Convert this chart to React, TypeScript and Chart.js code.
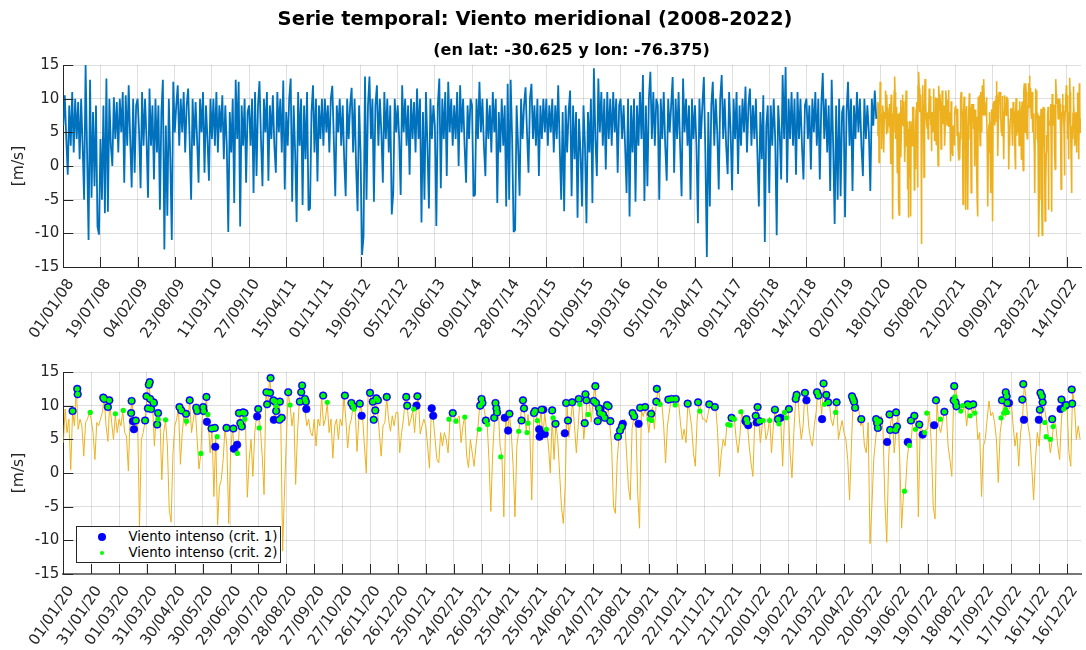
import React, { useEffect, useRef } from 'react';
import { Chart, registerables } from 'chart.js';

Chart.register(...registerables);

// ---------------- text ----------------
const TITLE = 'Serie temporal: Viento meridional (2008-2022)';
const SUBTITLE = '(en lat: -30.625 y lon: -76.375)';
const Y_LABEL = '[m/s]';
const LEGEND_CRIT1 = 'Viento intenso (crit. 1)';
const LEGEND_CRIT2 = 'Viento intenso (crit. 2)';

// ---------------- axes ----------------
const TOP_TICK_LABELS = ['01/01/08','19/07/08','04/02/09','23/08/09','11/03/10','27/09/10','15/04/11','01/11/11','19/05/12','05/12/12','23/06/13','09/01/14','28/07/14','13/02/15','01/09/15','19/03/16','05/10/16','23/04/17','09/11/17','28/05/18','14/12/18','02/07/19','18/01/20','05/08/20','21/02/21','09/09/21','28/03/22','14/10/22'];
const TOP_TICK_STEP = 200; // days between labelled ticks (top)
const TOP_MAX_DAY = 5478; // 31/12/2022 counted from 01/01/2008
const BOTTOM_TICK_LABELS = ['01/01/20','31/01/20','01/03/20','31/03/20','30/04/20','30/05/20','29/06/20','29/07/20','28/08/20','27/09/20','27/10/20','26/11/20','26/12/20','25/01/21','24/02/21','26/03/21','25/04/21','25/05/21','24/06/21','24/07/21','23/08/21','22/09/21','22/10/21','21/11/21','21/12/21','20/01/22','19/02/22','21/03/22','20/04/22','20/05/22','19/06/22','19/07/22','18/08/22','17/09/22','17/10/22','16/11/22','16/12/22'];
const BOTTOM_TICK_STEP = 30;
const BOTTOM_MAX_DAY = 1095; // 31/12/2022 counted from 01/01/2020
const Y_TICKS = [-15, -10, -5, 0, 5, 10, 15];

// ---------------- data ----------------
// 2008-2019 meridional wind, one reading every 8 days from 01/01/2008
const BLUE_STEP = 8;
const blueVals = [
  6,10.5,4,-1.3,9,3,11,2,10,4,9.5,1,10,3,-5,15,2,-11,12.8,-4.7,8,-3,9,-9,-10.2,
  4,-5,9,-7,13,-6.8,10,3,0,10.2,4,9.5,2,10,5,11,-2.5,10.5,3,12,4,-3.2,10,-1,9,
  10,5,-3.3,11,3,10,4,-4.7,11.5,3,9,-2,10,2,9,-6.5,8,12.8,-12.4,6,-7.4,10,1,-11,12.5,
  5,9,12,3,10,5,11,2,9,11.5,4,-5,10,3,9.5,4,-2.5,10,5,11,-1,9,4,-2.2,10,
  4,10,3,11,2,9,5,10.5,1,9,3,-9.8,8,2,10,-5.5,12.8,4,12.5,-9,9,3,10,-2.5,8,
  9,3,10,-4,11,-1.5,9,12.6,4,-3,10,5,11,-2.2,9,4,10.5,3,-1,11,5,10,2,12.7,-3.5,
  8,3,10,13,-5.3,9,2,-8.3,11,3,10,-5.8,9,1,11,-6.6,-6.3,8,12,2,10,-2.3,9,4,10,
  3,10,5,9,2,10,11.9,4,-4.5,9,5,10,3,9,1,-4.5,10,4,9,11.6,2,10,0,-6.7,9,
  2,-13.2,-10.5,13.3,-5,9,13.3,4,10,-5.3,9,12,3,10,5,-2.5,11,4,10,2,9,-7.2,-4,10,5,
  9,4,-4.3,12,5,10,3,9,-1.3,10,4,9.5,2,11.5,4,10,-8.4,8,-5,11,3,-6.3,10,4,9,
  6,-8.9,9,13,-3.3,10,4,11,-1.5,12.5,5,10,3,9,4,11,0,12,5,10,3,-2.5,9,4,10,
  9,-4.5,-4.3,10,4,12.5,5,10,3,-1.5,10,4,9,2,11,5,10,-5.5,8,2,10,3,9,-6,12.2,
  -5,12.8,4,-9.8,-9.5,9,3,-4.4,10,4,9,11.7,5,-1,10,12.2,4,9,3,10,-1.5,9,4,10,5,
  10,3,9,5,10,2,9,4,12,3,-5,8,-6.7,9,2,8,11.2,-4.5,9,1,8,-7.7,7,2,-6,
  9,3,-8.5,8,2,10,-5.5,14.5,4,-1.5,13,5,11,3,10,-0.5,11,4,10,3,11,5,10,-1,9,
  10,4,9,3,-4,10,-7.5,9,2,10,-5.3,9,3,11,4,13.5,-5.2,9,-3,10,14,4,11,3,10,
  9,-5,10,4,11,3,-2.2,10,5,9,13.2,-1,10,4,11,3,-4.5,13,5,10,3,9,-5,10,4,
  9,3,-8.5,10,4,9,13.2,2,-13.5,8,-6,9,12.5,3,10,5,-3.5,10,13.5,4,10,3,-1.2,11,5,
  -3.6,10,4,11,-1.2,9,3,10,5,11.8,2,9,11.5,3,9,4,10,2,-6,8,1,10.5,-11.3,6,9,
  -4,9,3,10,4,-10.3,9,5,-2,13.5,4,14.7,-2.5,10,4,11,3,10,-1.3,11,4,10,3,-2,9,
  10,4,9,-0.5,10,5,11,3,10,-2,9,13.8,4,10,2,9,-3.7,12.8,3,-8.6,9,-5,10,-4.5,8,
  9,-7.6,8,12.5,3,10,-3.7,9,4,11,5,10,3,-1.5,10,4,9,5,-3.7,10,6,11.2,7,
];

// 2020-2022 meridional wind, one reading every 2 days from 01/01/2020
const RECENT_START_DAY = 4383; // 01/01/2020 counted from 01/01/2008
const RECENT_STEP = 2;
const recentVals = [
  4.5,9.5,6,8,0.5,9.2,7,12.5,6.5,8,7,2.5,7.5,8,9,
  8,6,2,7.5,7,8,9,11.2,7,4.7,10.6,7.5,5,8.7,6,
  8,7,9.2,6,5.5,0.3,8.8,10.6,7.7,6.5,7.8,-7.9,5,6,7.8,
  11.3,13.3,11,10.4,4,8.8,7.2,8,-1,6,7.8,4,-5.5,-7.3,3,
  7,8,9.8,1.3,6,8.8,7,8,10.6,6,8,9.6,5,0.6,2.9,
  9.8,9,11.2,7.5,3,6.6,-3.5,5.5,-7.7,-2,-1,2,6.7,4,-7.5,
  3,6.6,3.5,4.2,2.9,8.8,6.8,8.8,7.8,-3.6,2,5,-0.5,6,8.5,
  9.5,6.7,2.6,-3.2,12,10.2,14,11.5,10.6,8,10.4,10.6,8.1,-11.6,-2.5,
  5,12,10.1,7,9,-1.7,6,10.6,12.9,10.7,9.5,7,8,6,5.5,
  8,4,8,7,11.5,7,8,10.4,6,8,2.2,7,8,5,8,
  7,11.5,8,3.7,7,8,10.2,9.6,3.2,8,10.1,8.4,4,0,11.9,
  11.9,10.2,8.2,10.7,9.3,6,2.5,7,7.5,11.2,8,6.2,8.5,7,9,
  9,3,6,8,11.2,10,7,8,9.3,6,9.8,11.3,5.8,7,8,
  7,4,0.7,9.6,8.2,5,2,1.5,6,4,6,5,3,7.8,8.8,
  9,7.7,8,8.5,4.5,7,8.5,2.5,0.8,5,3,1,4,6.5,10,
  11,10,8.5,7.5,2,-5.7,3,8,10.3,9.5,4,2.4,-6.5,8.5,6.2,
  8.9,6,1,-6.5,4,6.3,8.2,10.8,9.5,6.3,8.7,6,-4,8,9.2,
  7.2,6.7,9.2,5.5,8.8,6.5,4,0,8.4,2,7.3,5,0,-5,-7.5,
  -2,10.3,5.3,8,10.5,7,3,7,11,10,5,8,12,10.5,7.6,
  10.6,12.9,9.6,7.5,9.5,8.5,8.9,7.6,10.2,7.3,4,-5,-6,2,5.4,
  6.2,7.2,8,3,-2,-4,6.6,8.3,8.4,-3,-8.2,9.3,8.4,9.6,8.4,
  6,8.4,9.8,6.5,10.4,12.6,11,10.3,7,1.5,7,9,11,10.5,10.3,
  11,10.5,7.5,5,6.5,4.5,10.4,9,7,3,1,8,10.5,9.3,8,
  8,7.5,9,10.3,10,9.5,10,6,-0.5,3,5,4,7,7.5,8.5,
  8.5,8.1,5,3,5.5,9.5,7,8.5,7.4,4,1.5,-0.5,7.9,10.1,8.2,
  4.5,7,8.1,5,6,8.3,3,7,9.6,7.3,8,7.5,1,8.6,9.5,
  9.6,3,-0.7,6,11,12.3,8,5,7,12.3,11,7,5,4,7,
  9,12.3,11.6,8.7,13.4,10.4,11.6,10.8,8,7,8.7,11,5,6.5,7.8,
  6,5,2,-4,4,11.5,10.5,11.2,9.3,7,7.9,4,3,7.5,-10.5,
  -5,2,5,7.5,6.9,8.5,6.3,-4.3,-10.3,2,7.3,8.8,3,6.3,8.6,
  2,-8.2,-3,-2.7,2,4.6,4.3,7.8,7.4,8.8,-6.5,7,6.4,6,6.5,
  6.5,9.2,4,-5,-6.8,10.7,7,6,7.6,9,9.1,4,2,-0.5,11.3,
  12.9,10.7,10,9.3,9.3,10,7,9.8,10,8.9,10,9.2,5,6,-3.5,
  4,5,8,10.7,8.5,9,7.5,5,-1.4,6,8.1,10.7,8.4,12,9.5,
  10.5,7,4,6,1,6,8,13.1,11,7,5.4,1,-4,2,6,
  4,7.9,11.8,9.4,7.7,5.4,3,5,8,6.9,4,2,8,10.9,9.5,
  9.9,3,1,12.3,10.1,5,7,5,
];

// intense-wind days [day since 01/01/2020, value]
const critBoth = [
  [10,9.2],[15,12.5],[15.5,11.7],[43,11.2],[44,11],[48,9.8],[49.5,10.8],[73,8.9],[73.5,10.7],[78,7.8],[88,7.8],
  [89.5,11.4],[91,9.6],[92,13.1],[93,13.5],[93.5,11],[94.5,9.5],[97,10.5],[97.5,10.4],[101,7.2],[102,8.9],
  [125,9.8],[127,9.3],[132,8.8],[136,10.8],[143,9.7],[144,9.2],[150.5,9.8],[151,9.2],[154,11.3],[159.5,6.6],
  [163,6.7],[175.6,6.7],[183,6.6],[189,8.9],[190.5,7.4],[192,6.9],[193.5,9],[195,8.9],[209.7,9.5],[218.6,12],
  [219.3,10.2],[222.5,11.9],[223,14.1],[226,10.8],[228,10.6],[229,9.2],[233,10.6],[232.5,7.9],[235,8.2],[242,12],
  [254.5,10.6],[256,12],[257,13],[260,11],[261,10.6],[279.6,11.5],[303,11.5],[310,10.4],[312,9.9],[319,10.3],
  [330,11.9],[333,10.6],[334,7.9],[335.7,9.3],[336.8,11.1],[338.5,10.8],[348,11.3],[369,11.3],[370,10],[381,11.4],
  [419,8.9],[450,11],[451,10.4],[448.5,10],[454.6,7.8],[463.6,8.2],[465,10.4],[466,9.6],[466.7,9],[480,8.8],
  [493,7.8],[494.6,10.8],[495.7,9.6],[506.4,8.9],[507.5,9.2],[514.6,9.4],[526,9.3],[529.6,7.3],[541,10.4],[543,7.8],
  [547.5,10.5],[554.6,11],[561,7.4],[561.8,11.7],[562.8,10.8],[570.7,10.7],[572.5,12.9],[573.2,10.4],[575,7.7],
  [576.4,9.6],[577.5,8.9],[580.7,8.7],[582.5,8.2],[585,10.1],[586.7,9.9],[588.6,7.7],[596.8,5.4],[599,6.3],[601,6.9],
  [612.5,8.9],[614.3,8.4],[620.7,9.7],[626,9.8],[632.5,8.8],[638.6,12.5],[638,10.6],[651,10.9],[654.6,11],[659,11],
  [671.8,10.3],[683,10.5],[695,10.2],[701,9.8],[719,8.2],[735,8],[745,8.5],[747,9.8],[748.8,7.7],[765.7,9.4],
  [769,8],[780.7,9.5],[788,11],[789,11.6],[798,11.9],[811,12],[812.5,11.5],[818,13.3],[821,11.6],[823,10.5],
  [832,10.5],[848.6,11.4],[849.7,11],[850.8,10.6],[852,9.7],[858.6,8],[874.6,8],[875.7,7.4],[876.4,6.7],[878,7.7],
  [889,8.7],[889.7,6.4],[896,9],[895.4,6.4],[897,6.9],[912,7.8],[915.7,8.5],[921,7.2],[939,10.8],[948,9.1],
  [958,10.8],[958.6,12.9],[960,10.5],[961,9.9],[973,10.2],[974.8,10],[979,10.2],[1010,10.8],[1014,12],[1015,11.4],
  [1015.7,10.4],[1031.8,10.9],[1032.9,13.2],[1050.7,9.4],[1051.4,11.9],[1053,11.4],[1053.7,10.5],[1064,8],
  [1074,10.9],[1079,10.1],[1085,12.4],[1085.5,10.3],
];
const crit1Only = [
  [75,7.7],[76,6.5],[154.5,7.6],[163.5,3.9],[183.5,3.6],[187,4.2],[208.6,8.4],[226.5,7.9],[261.5,9.5],[321,8.5],
  [380,10],[396.4,9.6],[398,8.5],[475,8.2],[478.6,6.3],[512,6.5],[512.5,5.4],[516.4,9.4],[518,5.8],[539.6,5.9],
  [578,9.5],[602,7.3],[619,7.3],[734,7.7],[737,7.1],[746,7.5],[771.8,8.2],[799.6,10.8],[816.4,8],[886.4,4.6],
  [908.6,4.6],[924.6,5.7],[937,7.1],[1017.5,10.4],[1033.6,7.9],[1049.6,7.9],[1073,9.5],[1078,10],
];
const crit2Only = [
  [29,9],[56,8.8],[64.5,9.3],[102,8],[110,7.9],[132.5,7.7],[148,2.9],[155.5,8.7],[165.5,5.4],[187.3,2.9],
  [195.3,8],[210.8,6.7],[229,9.9],[244,10.1],[284,10.5],[312.8,9.5],[377,9.5],[415,8],[422.5,7.7],[432,8.3],
  [447.5,6.5],[456.4,7.2],[470.7,2.4],[490,6.2],[499,6],[500,7.4],[510,7.8],[519.8,6.5],[527,8.2],[555.7,10.2],
  [564.6,8.7],[630.5,8],[633,7.8],[642,10.2],[658.4,10.1],[684.8,9.2],[715,7.2],[717.5,7.1],[722,8],[729,9.1],
  [736,7.5],[753,7.8],[760,7.8],[770,7.3],[776,9],[778,8.2],[819,10.2],[831,9],[905,-2.7],[910.4,4.1],
  [916.8,6.5],[926.9,6],[929,8.9],[943.6,8],[959.3,11.3],[965.7,9.2],[967.5,10],[975.7,8.5],[980.7,8.9],[1009,8.2],
  [1011.8,8.9],[1014,9.4],[1015.7,9],[1056,7.5],[1057.5,5.4],[1062,5],[1065,6.9],[1076.4,9.5],
];

// ---------------- style ----------------
const FONT = "'DejaVu Sans', sans-serif";
const BLUE = '#0072BD';
const ORANGE = '#EDB120';
const CRIT1_COLOR = '#0000FF';
const CRIT2_COLOR = '#00FF00';
const AXIS_COLOR = '#262626';
const GRID_COLOR = 'rgba(38,38,38,0.15)';
const TICK_FONT = { family: FONT, size: 15 };
const ROT = 56;
const INNER_TICK = 10;

const inwardTicks = {
  id: 'inwardTicks',
  afterDatasetsDraw(chart: any) {
    const { ctx, chartArea, scales } = chart;
    ctx.save();
    ctx.strokeStyle = AXIS_COLOR;
    ctx.lineWidth = 1;
    ctx.beginPath();
    scales.x.ticks.forEach((t: any) => {
      const px = Math.round(scales.x.getPixelForValue(t.value)) + 0.5;
      ctx.moveTo(px, chartArea.bottom);
      ctx.lineTo(px, chartArea.bottom - INNER_TICK);
    });
    scales.y.ticks.forEach((t: any) => {
      const py = Math.round(scales.y.getPixelForValue(t.value)) + 0.5;
      ctx.moveTo(chartArea.left, py);
      ctx.lineTo(chartArea.left + INNER_TICK, py);
    });
    ctx.stroke();
    ctx.restore();
  },
};

function xScale(maxDay: number, step: number, labels: string[], height: number, borderColor: string, borderWidth: number) {
  const tickDays = labels.map((_, i) => i * step);
  return {
    type: 'linear',
    min: 0,
    max: maxDay,
    afterBuildTicks: (s: any) => { s.ticks = tickDays.map((v) => ({ value: v })); },
    afterFit: (s: any) => { s.height = height; s.paddingLeft = 0; s.paddingRight = 0; },
    grid: { color: GRID_COLOR, drawTicks: false, lineWidth: 1 },
    border: { display: true, color: borderColor, width: borderWidth },
    ticks: {
      autoSkip: false,
      minRotation: ROT,
      maxRotation: ROT,
      padding: 9,
      color: AXIS_COLOR,
      font: TICK_FONT,
      showLabelBackdrop: true,
      backdropColor: 'rgba(0,0,0,0)',
      backdropPadding: 0,
      callback: (_v: any, i: number) => labels[i] ?? '',
    },
  };
}

function yScale() {
  return {
    min: -15,
    max: 15,
    afterBuildTicks: (s: any) => { s.ticks = Y_TICKS.map((v) => ({ value: v })); },
    afterFit: (s: any) => { s.width = 63.3; s.paddingTop = 0; s.paddingBottom = 0; },
    grid: { color: GRID_COLOR, drawTicks: false, lineWidth: 1 },
    border: { display: true, color: AXIS_COLOR, width: 1 },
    ticks: { padding: 4, color: AXIS_COLOR, font: TICK_FONT, callback: (v: any) => String(v) },
    title: { display: true, text: Y_LABEL, color: AXIS_COLOR, font: { family: FONT, size: 15.5 }, padding: { top: 9.4, bottom: 0 } },
  };
}

const baseOptions = (padTop: number) => ({
  responsive: false,
  animation: false as const,
  events: [] as any[],
  layout: { padding: { top: padTop, right: 5, bottom: 0, left: 0 } },
  plugins: { legend: { display: false }, title: { display: false }, tooltip: { enabled: false } },
  elements: { point: { radius: 0 }, line: { tension: 0, borderJoinStyle: 'bevel' as const } },
});

export default function App() {
  const topRef = useRef<HTMLCanvasElement>(null);
  const botRef = useRef<HTMLCanvasElement>(null);

  useEffect(() => {
    document.body.style.margin = '0';
    const blueData = blueVals.map((v, i) => ({ x: i * BLUE_STEP, y: v }));
    const recentTop = recentVals.map((v, i) => ({ x: RECENT_START_DAY + i * RECENT_STEP, y: v }));
    const recentBottom = recentVals.map((v, i) => ({ x: i * RECENT_STEP, y: v }));
    const crit1 = [...critBoth, ...crit1Only].map(([x, y]) => ({ x, y }));
    const crit2 = [...critBoth, ...crit2Only].map(([x, y]) => ({ x, y }));

    const top = new Chart(topRef.current as HTMLCanvasElement, {
      type: 'line',
      data: {
        datasets: [
          { label: '2008-2019', data: blueData, borderColor: BLUE, borderWidth: 1.8, pointRadius: 0 },
          { label: '2020-2022', data: recentTop, borderColor: ORANGE, borderWidth: 1.6, pointRadius: 0 },
        ],
      },
      options: {
        ...baseOptions(65),
        scales: { x: xScale(TOP_MAX_DAY, TOP_TICK_STEP, TOP_TICK_LABELS, 83, AXIS_COLOR, 1), y: yScale() },
      } as any,
      plugins: [inwardTicks],
    });

    const bot = new Chart(botRef.current as HTMLCanvasElement, {
      type: 'line',
      data: {
        datasets: [
          { label: LEGEND_CRIT2, data: crit2, showLine: false, pointRadius: 2.6, pointBackgroundColor: CRIT2_COLOR, pointBorderWidth: 0, pointBorderColor: CRIT2_COLOR },
          { label: LEGEND_CRIT1, data: crit1, showLine: false, pointRadius: 3.8, pointBackgroundColor: CRIT1_COLOR, pointBorderWidth: 0.6, pointBorderColor: CRIT1_COLOR },
          { label: '2020-2022', data: recentBottom, borderColor: ORANGE, borderWidth: 1, pointRadius: 0 },
        ],
      },
      options: {
        ...baseOptions(22),
        scales: { x: xScale(BOTTOM_MAX_DAY, BOTTOM_TICK_STEP, BOTTOM_TICK_LABELS, 76, '#777777', 2), y: yScale() },
      } as any,
      plugins: [inwardTicks],
    });

    return () => { top.destroy(); bot.destroy(); };
  }, []);

  const dot = (d: number, c: string, cx: number, cy: number) => (
    <div style={{ position: 'absolute', left: cx - d / 2, top: cy - d / 2, width: d, height: d, borderRadius: '50%', background: c }} />
  );

  return (
    <div style={{ position: 'relative', width: 1086, height: 650, background: '#fff', overflow: 'hidden', fontFamily: FONT }}>
      <canvas ref={topRef} width={1086} height={350} style={{ position: 'absolute', left: 0, top: 0, width: 1086, height: 350 }} />
      <canvas ref={botRef} width={1086} height={300} style={{ position: 'absolute', left: 0, top: 350, width: 1086, height: 300 }} />
      <div style={{ position: 'absolute', left: 235, top: 7, width: 600, textAlign: 'center', fontWeight: 'bold', fontSize: 19.5, lineHeight: '23.4px', color: '#000', whiteSpace: 'nowrap' }}>{TITLE}</div>
      <div style={{ position: 'absolute', left: 271.5, top: 39.5, width: 600, textAlign: 'center', fontWeight: 'bold', fontSize: 16, lineHeight: '19.2px', color: '#000', whiteSpace: 'nowrap' }}>{SUBTITLE}</div>
      <div style={{ position: 'absolute', left: 76, top: 526, width: 205, height: 37, border: `1px solid ${AXIS_COLOR}`, background: '#fff', boxSizing: 'border-box', fontSize: 13.3, color: '#000' }}>
        {dot(8, CRIT1_COLOR, 25, 10)}
        <div style={{ position: 'absolute', left: 51.5, top: 1, lineHeight: '18px', whiteSpace: 'nowrap' }}>{LEGEND_CRIT1}</div>
        {dot(4.5, CRIT2_COLOR, 25, 26)}
        <div style={{ position: 'absolute', left: 51.5, top: 17, lineHeight: '18px', whiteSpace: 'nowrap' }}>{LEGEND_CRIT2}</div>
      </div>
    </div>
  );
}
